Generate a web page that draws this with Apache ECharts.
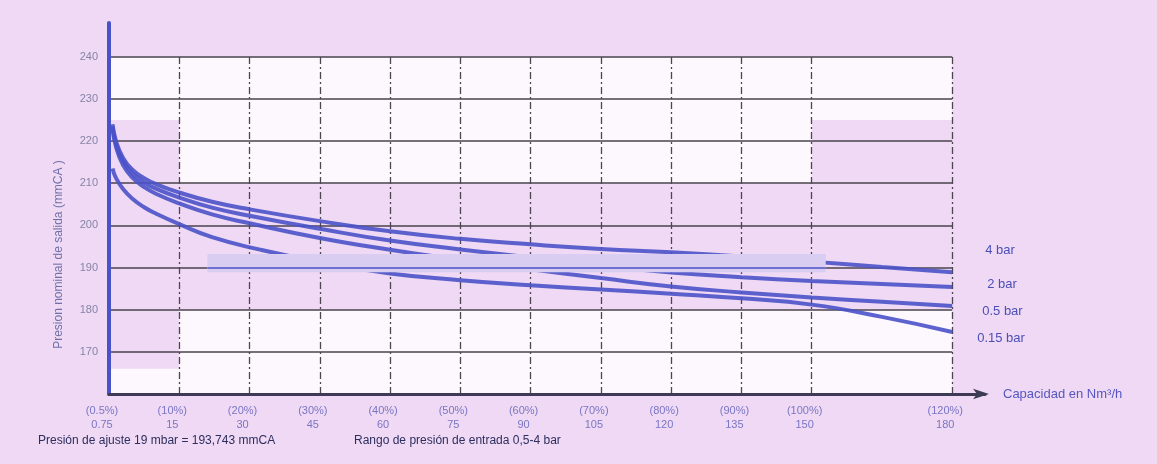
<!DOCTYPE html>
<html>
<head>
<meta charset="utf-8">
<script src="https://cdn.jsdelivr.net/npm/echarts@6/dist/echarts.min.js"></script>
<style>
html,body{margin:0;padding:0;background:#efd9f4;}
#c{width:1157px;height:464px;}
</style>
</head>
<body>
<div id="c"></div>
<script>
// ---- data ----
const xTickVals = [0, 15, 30, 45, 60, 75, 90, 105, 120, 135, 150, 180];
const xTickPct = ['(0.5%)', '(10%)', '(20%)', '(30%)', '(40%)', '(50%)', '(60%)', '(70%)', '(80%)', '(90%)', '(100%)', '(120%)'];
const xTickNum = ['0.75', '15', '30', '45', '60', '75', '90', '105', '120', '135', '150', '180'];
const yTickVals = [170, 180, 190, 200, 210, 220, 230, 240];
const xGrid = [15, 30, 45, 60, 75, 90, 105, 120, 135, 150, 180];

const seriesNames = ['4 bar', '2 bar', '0.5 bar', '0.15 bar'];
const flowA = [0.75, 1.5, 3, 5, 7.5, 10, 15, 22, 30, 45, 60, 75, 90, 105, 120, 135, 150, 165, 180];
const p4bar = [224, 220, 216, 213.2, 211.2, 209.8, 207.8, 205.6, 203.8, 201, 198.6, 196.8, 195.5, 194.4, 193.6, 192.6, 191.4, 190.1, 188.9];
const p2bar = [223.5, 219.3, 215.2, 212.3, 210.2, 208.7, 206.6, 204.2, 202.3, 199.2, 196.4, 194.3, 192.4, 190.5, 188.8, 187.7, 186.8, 186.1, 185.4];
const p05bar = [223, 218.6, 214.3, 211.3, 209.1, 207.5, 205.2, 202.6, 200.5, 197, 194.2, 191.8, 189.6, 187.5, 185.5, 184.1, 182.9, 181.9, 180.9];
const flow015 = [0.75, 1.5, 3, 5, 7.5, 10, 15, 22, 32, 45, 60, 75, 90, 105, 120, 135, 150, 165, 180];
const p015bar = [213.5, 211.2, 208.6, 206.3, 204.3, 202.8, 200.3, 197.2, 194.3, 191.3, 188.6, 187, 185.8, 184.8, 183.8, 182.7, 181.2, 178.3, 174.7];

const whiteAreas = [[0, 225, 180, 240], [15, 210, 150, 225], [15, 160, 180, 180], [0, 160, 15, 166]];
const band = [21, 188.9, 153, 193.2];
const bandLineY = 190;

// ---- build ----
const curveColor = '#4a52c9';
function pairs(xs, ys) { return xs.map((x, i) => [x, ys[i]]); }
const curves = [pairs(flowA, p4bar), pairs(flowA, p2bar), pairs(flowA, p05bar), pairs(flow015, p015bar)];
const labelOffsets = [[33, -22], [35, -2], [30, 6], [25, 6]];

const chart = echarts.init(document.getElementById('c'));
const series = [];

series.push({
  type: 'line', data: [], z: 0, silent: true,
  markArea: {
    silent: true, z: 0,
    itemStyle: { color: '#fcf8fd' },
    data: whiteAreas.map(a => [{ coord: [a[0], a[1]] }, { coord: [a[2], a[3]] }])
  },
  markLine: {
    silent: true, z: 1, symbol: 'none', label: { show: false },
    lineStyle: { color: '#4a434d', width: 1.7, type: 'solid' },
    data: yTickVals.map(v => [{ coord: [0, v] }, { coord: [180, v] }])
  }
});
series.push({
  type: 'line', data: [], z: 1, silent: true,
  markLine: {
    silent: true, z: 1, symbol: 'none', label: { show: false },
    lineStyle: { color: '#4d4650', width: 1.3, type: [7, 3, 2, 3] },
    data: xGrid.map(v => [{ coord: [v, 160] }, { coord: [v, 240] }])
  }
});

curves.forEach((d, i) => {
  series.push({
    name: seriesNames[i], type: 'line', data: d, z: 3,
    smooth: 0.5, showSymbol: false, symbol: 'none',
    lineStyle: { color: curveColor, width: 4, opacity: 0.9 },
    endLabel: {
      show: true, formatter: seriesNames[i], distance: 0, offset: labelOffsets[i],
      color: '#4c4fb8', fontSize: 13
    }
  });
});

series.push({
  type: 'line', data: [], z: 10, silent: true,
  markArea: {
    silent: true, z: 10, itemStyle: { color: '#d9cdf2', opacity: 1 },
    data: [[{ coord: [band[0], band[1]] }, { coord: [band[2], band[3]] }]]
  },
  markLine: {
    silent: true, z: 11, symbol: 'none', label: { show: false },
    lineStyle: { color: '#6e70d2', width: 2, type: 'solid' },
    data: [[{ coord: [band[0], bandLineY] }, { coord: [band[2], bandLineY] }]]
  }
});

chart.setOption({
  backgroundColor: '#efd9f4',
  animation: false,
  textStyle: { fontFamily: 'Liberation Sans, Arial, sans-serif' },
  title: [
    { text: 'Presión de ajuste 19 mbar = 193,743 mmCA', left: 38, top: 435, padding: 0,
      textStyle: { fontSize: 12, color: '#2e2e5e', fontWeight: 'normal' } },
    { text: 'Rango de presión de entrada 0,5-4 bar', left: 354, top: 435, padding: 0,
      textStyle: { fontSize: 12, color: '#2e2e5e', fontWeight: 'normal' } }
  ],
  grid: { left: 109, right: 172, top: 23, bottom: 70 },
  xAxis: {
    type: 'value', min: 0, max: 187, interval: 15, z: 6,
    name: 'Capacidad en Nm³/h', nameLocation: 'end', nameGap: 18,
    nameTextStyle: { color: '#5656c0', fontSize: 13 },
    axisLine: { show: true, symbol: ['none', 'arrow'], symbolSize: [8, 16], symbolOffset: [0, 4],
      lineStyle: { color: '#3c3a55', width: 3 } },
    axisTick: { show: false },
    splitLine: { show: false },
    axisLabel: {
      color: '#7a76c4', fontSize: 11, lineHeight: 14, margin: 10, padding: [0, 14, 0, 0],
      formatter: v => { const i = xTickVals.indexOf(v); return i < 0 ? '' : xTickPct[i] + '\n' + xTickNum[i]; }
    }
  },
  yAxis: {
    type: 'value', min: 160, max: 248, interval: 10, z: 6,
    name: 'Presion nominal de salida (mmCA )', nameLocation: 'middle', nameGap: 44,
    nameTextStyle: { color: '#7070a8', fontSize: 12, padding: [0, 92, 0, 0] },
    axisLine: { show: true, lineStyle: { color: '#4a52c9', width: 4 } },
    axisTick: { show: false },
    splitLine: { show: false },
    axisLabel: {
      color: '#8585a8', fontSize: 11, margin: 11,
      formatter: v => yTickVals.indexOf(v) < 0 ? '' : String(v)
    }
  },
  series: series
});
</script>
</body>
</html>
